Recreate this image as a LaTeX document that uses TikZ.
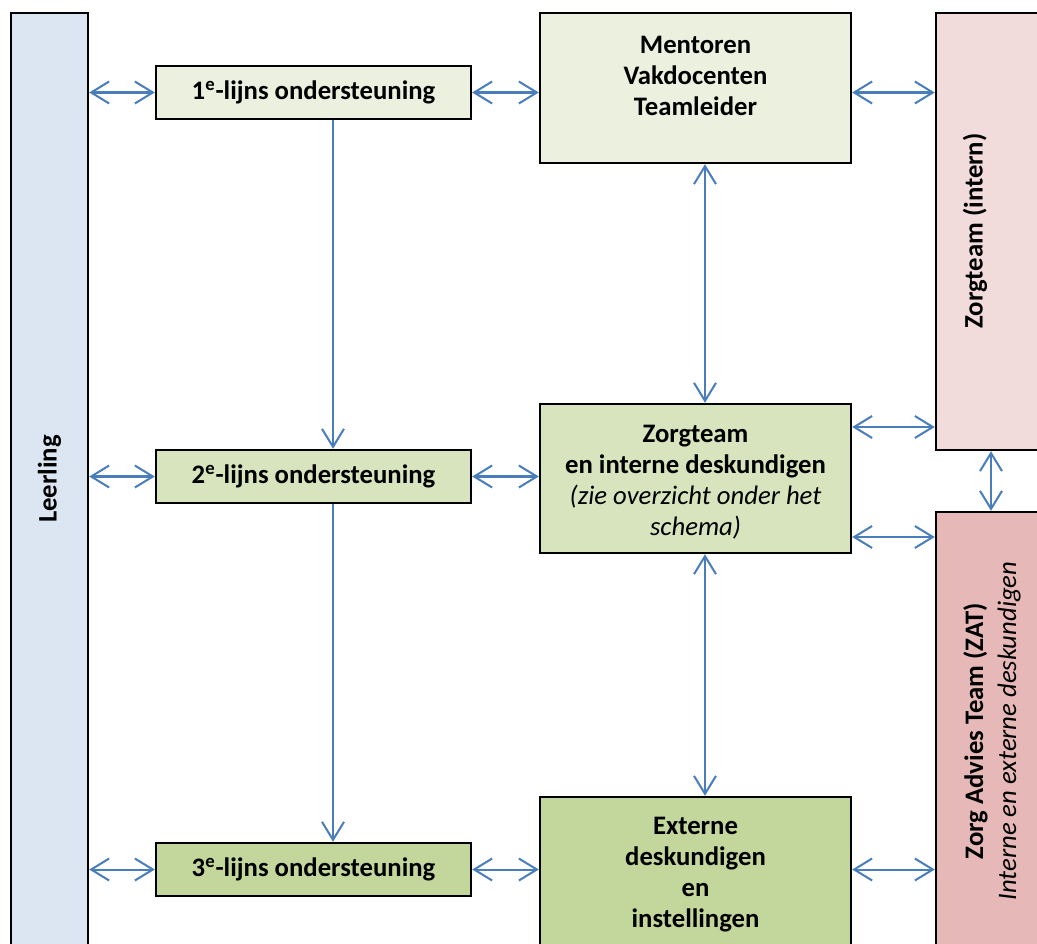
\documentclass[tikz,border=0pt]{standalone}
\usepackage{fontspec}
\setmainfont{Carlito}
\usetikzlibrary{positioning, calc, arrows.meta}

\definecolor{leerblue}{HTML}{DCE6F2}
\definecolor{lijnone}{HTML}{EBF1DE}
\definecolor{lijntwo}{HTML}{D7E4BD}
\definecolor{lijnthree}{HTML}{C3D69B}
\definecolor{internpink}{HTML}{F2DCDB}
\definecolor{zatpink}{HTML}{E6B9B8}
\definecolor{arrowblue}{HTML}{4A7EBB}

\tikzset{
  box/.style={draw=black, line width=1.4pt, inner sep=0pt, align=center,
    font=\bfseries\fontsize{15.2}{17.6}\selectfont},
  txt/.style={inner sep=0pt, align=center, font=\fontsize{15.2}{17.6}\selectfont},
  link/.style={arrowblue, line width=1.15pt,
    {Straight Barb[length=0.36cm, width=0.44cm]}-{Straight Barb[length=0.36cm, width=0.44cm]}},
  flow/.style={arrowblue, line width=1.15pt, -{Straight Barb[length=0.36cm, width=0.44cm]}},
}

\begin{document}
\begin{tikzpicture}[x=0.02cm, y=-0.02cm]
      \useasboundingbox (0,0) rectangle (1037,943);
      \clip (0,0) rectangle (1037,943);

      \coordinate (vx) at (333,0);   % line 1 -> 2 -> 3
      \coordinate (vz) at (705,0);   % mentoren - zorgteam - externe
      \coordinate (hi) at (0,427);   % zorgteam - intern
      \coordinate (hz) at (0,537);   % zorgteam - zat

      % left column
      \node[box, fill=leerblue, minimum width=1.54cm, minimum height=18.64cm] (leer) at (49.5,479) {};
      \node[txt, rotate=90, font=\bfseries\fontsize{15.2}{17.6}\selectfont] (leertxt) at (leer) {Leerling};

      % lines
      \node[box, fill=lijnone, minimum width=6.3cm, minimum height=1.06cm] (l1) at (313.5,92.5) {1\textsuperscript{e}-lijns ondersteuning};
      \node[box, fill=lijntwo, minimum width=6.3cm, minimum height=1.06cm] (l2) at (313.5,476.5) {2\textsuperscript{e}-lijns ondersteuning};
      \node[box, fill=lijnthree, minimum width=6.3cm, minimum height=1.06cm] (l3) at (313.5,869.5) {3\textsuperscript{e}-lijns ondersteuning};

      % middle column
      \node[box, fill=lijnone, minimum width=6.22cm, minimum height=3cm] (ment) at (695.5,88) {};
      \node[box, fill=lijntwo, minimum width=6.22cm, minimum height=2.98cm] (zorg) at (695.5,478.5) {};
      \node[box, fill=lijnthree, minimum width=6.22cm, minimum height=3.06cm] (ext) at (695.5,873.5) {};
      \node[txt, font=\bfseries\fontsize{15.2}{17.6}\selectfont, below=0.49cm of ment.north] (menttxt) {Mentoren\\ Vakdocenten\\ Teamleider};
      \node[txt, below=0.45cm of zorg.north] (zorgtxt) {\textbf{Zorgteam}\\ \textbf{en interne deskundigen}\\ \textit{(zie overzicht onder het}\\ \textit{schema)}};
      \node[txt, font=\bfseries\fontsize{15.2}{17.6}\selectfont, below=0.43cm of ext.north] (exttxt) {Externe\\ deskundigen\\ en\\ instellingen};

      % right column
      \node[box, fill=internpink, minimum width=2.2cm, minimum height=8.74cm] (intern) at (991,231.5) {};
      \node[box, fill=zatpink, minimum width=2.2cm, minimum height=8.76cm] (zat) at (991,731) {};
      \node[txt, rotate=90, font=\bfseries\fontsize{15.2}{17.6}\selectfont] (interntxt) at (975,231) {Zorgteam (intern)};
      \node[txt, rotate=90] (zattxt) at (992,731) {\textbf{Zorg Advies Team (ZAT)}\\[0.04cm] \textit{Interne en externe deskundigen}};

      % row arrows
      \draw[link] (leer.east |- l1) -- (l1.west);
      \draw[link] (l1.east) -- (l1.east -| ment.west);
      \draw[link] (ment.east |- l1) -- (intern.west |- l1);
      \draw[link] (leer.east |- l2) -- (l2.west);
      \draw[link] (l2.east) -- (l2.east -| zorg.west);
      \draw[link] (zorg.east |- hi) -- (intern.west |- hi);
      \draw[link] (zorg.east |- hz) -- (zat.west |- hz);
      \draw[link] (leer.east |- l3) -- (l3.west);
      \draw[link] (l3.east) -- (l3.east -| ext.west);
      \draw[link] (ext.east |- l3) -- (zat.west |- l3);

      % column arrows
      \draw[flow] (l1.south -| vx) -- (l2.north -| vx);
      \draw[flow] (l2.south -| vx) -- (l3.north -| vx);
      \draw[link] (ment.south -| vz) -- (zorg.north -| vz);
      \draw[link] (zorg.south -| vz) -- (ext.north -| vz);
      \draw[link] (intern.south) -- (zat.north);
\end{tikzpicture}
\end{document}
